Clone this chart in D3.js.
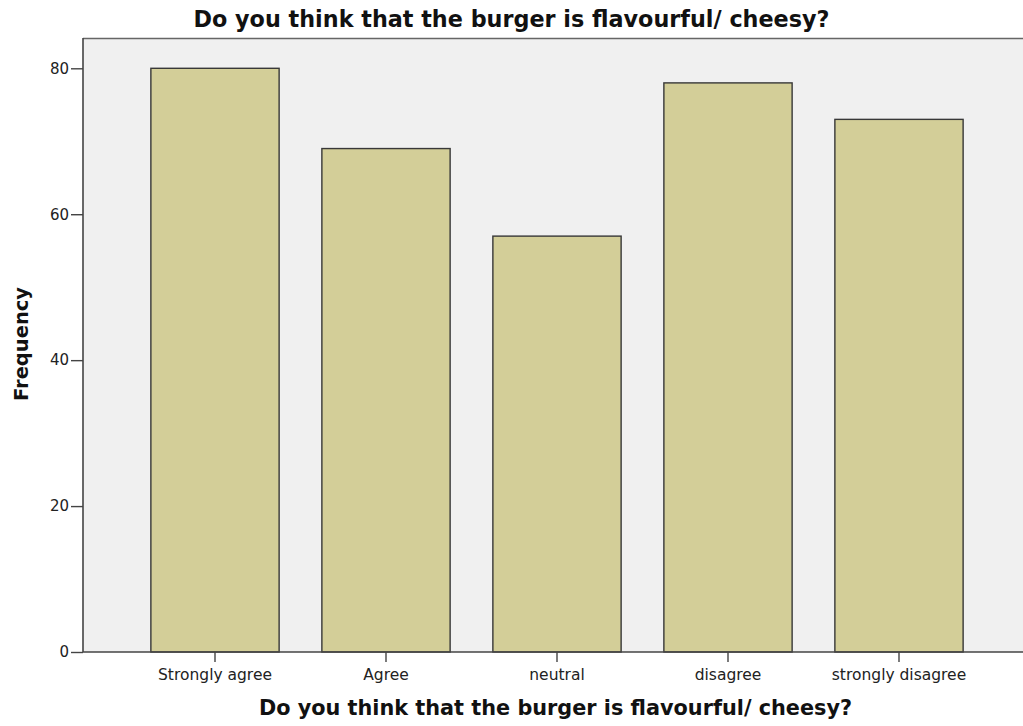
<!DOCTYPE html>
<html>
<head>
<meta charset="utf-8">
<script src="https://cdn.jsdelivr.net/npm/d3@7"></script>
<style>
  html, body { margin: 0; padding: 0; background: #fff; }
  svg { display: block; }
  text { font-family: "DejaVu Sans", Verdana, sans-serif; }
</style>
</head>
<body>
<svg id="chart" width="1023" height="726"></svg>
<script>
const categories = ["Strongly agree", "Agree", "neutral", "disagree", "strongly disagree"];
const frequencies = [80, 69, 57, 78, 73];
const yTicks = [0, 20, 40, 60, 80];
const chartTitle = "Do you think that the burger is flavourful/ cheesy?";
const xTitle = "Do you think that the burger is flavourful/ cheesy?";
const yTitle = "Frequency";

const svg = d3.select("#chart");
const plot = { left: 83, top: 38, right: 1023, bottom: 652 };
const axisColor = "#444";
const labelFont = "'DejaVu Sans', Verdana, sans-serif";

// plot background
svg.append("rect")
  .attr("x", plot.left).attr("y", plot.top)
  .attr("width", plot.right - plot.left).attr("height", plot.bottom - plot.top)
  .attr("fill", "#f0f0f0");

// top frame line
svg.append("line")
  .attr("x1", plot.left).attr("x2", plot.right)
  .attr("y1", plot.top + 0.5).attr("y2", plot.top + 0.5)
  .attr("stroke", "#666").attr("stroke-width", 1.5);

const x = d3.scaleBand()
  .domain(categories)
  .range([129.5, 984.5])
  .paddingInner(0.25)
  .paddingOuter(0.125);

const y = d3.scaleLinear()
  .domain([0, 80])
  .range([plot.bottom, 68.3]);

// bars
svg.append("g").selectAll("rect")
  .data(categories)
  .join("rect")
  .attr("x", d => x(d))
  .attr("y", (d, i) => y(frequencies[i]))
  .attr("width", x.bandwidth())
  .attr("height", (d, i) => plot.bottom - y(frequencies[i]))
  .attr("fill", "#d3ce98")
  .attr("stroke", "#383838")
  .attr("stroke-width", 1.4);

// y axis
const yAxis = svg.append("g")
  .attr("transform", `translate(${plot.left},0)`)
  .call(d3.axisLeft(y).tickValues(yTicks).tickSize(12).tickPadding(2).tickSizeOuter(0));
yAxis.select(".domain").attr("stroke", axisColor).attr("stroke-width", 1.6)
  .attr("d", `M0,${plot.bottom}V${plot.top}`);
yAxis.selectAll(".tick line").attr("stroke", axisColor).attr("stroke-width", 1.4);
yAxis.selectAll(".tick text").attr("font-size", 15).attr("fill", "#222")
  .style("font-family", labelFont);

// x axis
const xAxis = svg.append("g")
  .attr("transform", `translate(0,${plot.bottom})`)
  .call(d3.axisBottom(x).tickSize(10).tickPadding(5).tickSizeOuter(0));
xAxis.select(".domain").attr("stroke", axisColor).attr("stroke-width", 1.6)
  .attr("d", `M${plot.left},0H${plot.right}`);
xAxis.selectAll(".tick line").attr("stroke", axisColor).attr("stroke-width", 1.4);
xAxis.selectAll(".tick text")
  .attr("y", 28).attr("dy", 0)
  .attr("font-size", 15.5).attr("fill", "#222")
  .style("font-family", labelFont);

// titles
svg.append("text")
  .attr("x", 511.5).attr("y", 27)
  .attr("text-anchor", "middle")
  .attr("font-size", 22.3).attr("font-weight", "bold").attr("fill", "#111")
  .text(chartTitle);

svg.append("text")
  .attr("x", 555.5).attr("y", 715)
  .attr("text-anchor", "middle")
  .attr("font-size", 20.8).attr("font-weight", "bold").attr("fill", "#111")
  .text(xTitle);

svg.append("text")
  .attr("transform", `translate(28,344) rotate(-90)`)
  .attr("text-anchor", "middle")
  .attr("font-size", 19.5).attr("font-weight", "bold").attr("fill", "#111")
  .text(yTitle);
</script>
</body>
</html>
